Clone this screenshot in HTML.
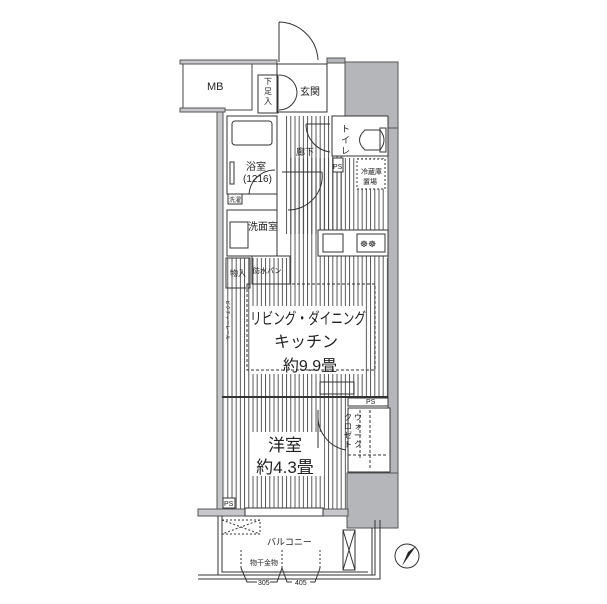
<!DOCTYPE html>
<html><head><meta charset="utf-8"><style>
body{margin:0;background:#fff}
svg{display:block}
text{font-family:"Liberation Sans","Noto Sans CJK JP",sans-serif;fill:#222}
</style></head><body>
<svg width="607" height="604" viewBox="0 0 607 604" xmlns="http://www.w3.org/2000/svg">
<defs>
<pattern id="st" width="4.2" height="10" patternUnits="userSpaceOnUse"><line x1="1" y1="0" x2="1" y2="10" stroke="#444" stroke-width="0.9"/></pattern>
</defs>
<g stroke="#333" stroke-width="1" fill="none">
<rect x="286" y="116" width="58" height="118" fill="url(#st)" stroke="none"/>
<rect x="290" y="158" width="96" height="100" fill="url(#st)" stroke="none"/>
<rect x="224" y="258" width="164" height="142" fill="url(#st)" stroke="none"/>
<rect x="224" y="400" width="122" height="110" fill="url(#st)" stroke="none"/>
<rect x="250" y="306" width="114" height="68" fill="#fff" stroke="none"/>
<rect x="250" y="432" width="74" height="44" fill="#fff" stroke="none"/>
<!-- right gray structure -->
<rect x="345" y="62" width="53" height="68" fill="#b4b6ba" stroke="#555"/>
<rect x="388" y="128" width="10" height="347" fill="#b4b6ba" stroke="#555"/>
<rect x="347" y="473" width="51" height="55" fill="#b4b6ba" stroke="#555"/>
<rect x="327" y="58" width="18" height="5" fill="#b4b6ba" stroke="#555"/>
<!-- left walls -->
<rect x="217" y="110" width="6" height="402" fill="#c6c8cc" stroke="#555"/>
<rect x="183" y="62" width="69" height="48" fill="#fff" stroke="#444"/>
<rect x="180" y="60" width="97" height="4" fill="#c6c8cc" stroke="#555"/>
<rect x="180" y="108" width="45" height="4" fill="#c6c8cc" stroke="#555"/>
<path d="M279 22 V62 M279 22 A40 40 0 0 1 318 60" />
<rect x="258" y="75" width="20" height="38" fill="#fff"/>
<path d="M279 75 A18 18 0 0 1 297 92 M279 110 A18 18 0 0 0 297 92"/>
<rect x="277" y="64" width="50" height="48"/>
<rect x="227" y="116" width="50" height="78"/>
<rect x="232" y="121" width="40" height="24" rx="3"/>
<rect x="230" y="162" width="4" height="22"/>
<path d="M277 170 V220 M249 194 A26 26 0 0 1 275 170"/>
<rect x="228" y="194" width="14" height="10"/>
<rect x="227" y="210" width="50" height="46"/>
<rect x="230" y="222" width="18" height="26"/>
<rect x="252" y="256" width="38" height="28"/>
<rect x="226" y="258" width="24" height="30"/>
<line x1="282" y1="172" x2="322" y2="172"/>
<path d="M322 172 A34 34 0 0 1 288 210"/>
<path d="M306 124 H330 M306 124 A28 28 0 0 0 330 152"/>
<rect x="332" y="116" width="56" height="40" fill="#fff"/>
<path d="M365 130 H380 Q388 140 380 150 H365 Q354 140 365 130Z"/>
<rect x="380" y="128" width="6" height="24"/>
<rect x="333" y="158" width="10" height="14" fill="#fff"/>
<rect x="357" y="159" width="28" height="30" stroke-dasharray="2 2" fill="#fff"/>
<rect x="318" y="230" width="70" height="26" fill="#fff"/>
<rect x="323" y="234" width="20" height="18"/>
<rect x="357" y="234" width="28" height="18"/>
<rect x="247" y="284" width="128" height="86" stroke-dasharray="3 2"/>
<rect x="320" y="382" width="34" height="12"/>
<line x1="222" y1="397" x2="388" y2="397" stroke-width="2"/>
<rect x="348" y="398" width="40" height="8" fill="#fff"/>
<rect x="348" y="408" width="42" height="64" fill="#fff"/>
<path d="M360 410 V458 M348 455 H388 M370 410 V470" stroke-dasharray="3 2"/>
<path d="M318 410 V448 M318 415 A34 34 0 0 0 346 450"/>
<rect x="198" y="509" width="150" height="7" fill="#c6c8cc" stroke="#555"/>
<rect x="245" y="508" width="78" height="8" fill="#fff"/>
<rect x="223" y="498" width="12" height="10" fill="#fff"/>
<path d="M218 516 V575 H372 V528 M222 516 V572 H368"/>
<path d="M198 575 H375 V520 M198 579 H380 V520" />
<rect x="222" y="520" width="38" height="14" stroke-dasharray="2 2"/>
<path d="M222 520 L260 534 M260 520 L222 534" stroke-dasharray="2 2"/>
<rect x="343" y="530" width="12" height="40"/>
<path d="M343 530 L355 570 M355 530 L343 570"/>
<path d="M241 550 V568 M282 550 V568 M320 550 V568" stroke-dasharray="2 2"/>
<path d="M241 568 L247 582 H257 M282 568 L277 582 H270 M282 568 L287 582 H292 M320 568 L315 582 H310"/>
<circle cx="407" cy="556" r="12"/>
</g>
<path d="M416 546 L402 566 L408 552 Z" fill="#222"/>
<text x="207" y="90" font-size="11">MB</text>
<text x="264" y="84" font-size="8">下</text><text x="264" y="94" font-size="8">足</text><text x="264" y="104" font-size="8">入</text>
<text x="300" y="95" font-size="10">玄関</text>
<text x="341" y="132" font-size="9">ト</text><text x="341" y="143" font-size="9">イ</text><text x="341" y="154" font-size="9">レ</text>
<text x="296" y="155" font-size="9">廊下</text>
<text x="333" y="169" font-size="7">PS</text>
<text x="361" y="174" font-size="7">冷蔵庫</text><text x="363" y="184" font-size="7">置場</text>
<text x="246" y="170" font-size="10">浴室</text>
<text x="243" y="182" font-size="10">(1216)</text>
<text x="229" y="202" font-size="6">洗濯</text>
<text x="248" y="230" font-size="10">洗面室</text>
<text x="230" y="276" font-size="8">物入</text>
<text x="253" y="273" font-size="7">防水パン</text>
<text x="360" y="247" font-size="9">☸☸</text>
<text x="250" y="324" font-size="16" textLength="116" lengthAdjust="spacingAndGlyphs">リビング・ダイニング</text>
<text x="306" y="347" font-size="16" text-anchor="middle">キッチン</text>
<text x="310" y="371" font-size="16" text-anchor="middle">約9.9畳</text>
<text x="285" y="451" font-size="17" text-anchor="middle">洋室</text>
<text x="285" y="473" font-size="17" text-anchor="middle">約4.3畳</text>
<text x="366" y="404" font-size="7">PS</text>
<text x="224" y="506" font-size="7">PS</text>
<g font-size="8"><text x="354" y="420">ウ</text><text x="354" y="429">ォ</text><text x="354" y="438">ー</text><text x="354" y="447">ク</text></g>
<g font-size="8"><text x="344" y="420">ク</text><text x="344" y="429">ロ</text><text x="344" y="438">ゼ</text><text x="344" y="447">ト</text></g>
<text x="267" y="545" font-size="9">バルコニー</text>
<text x="250" y="565" font-size="7">物干金物</text>
<text x="258" y="585" font-size="7">305</text>
<text x="295" y="585" font-size="7">405</text>
<text transform="translate(226,300) rotate(90)" font-size="5">ピクチャーレール</text>
</svg>
</body></html>
